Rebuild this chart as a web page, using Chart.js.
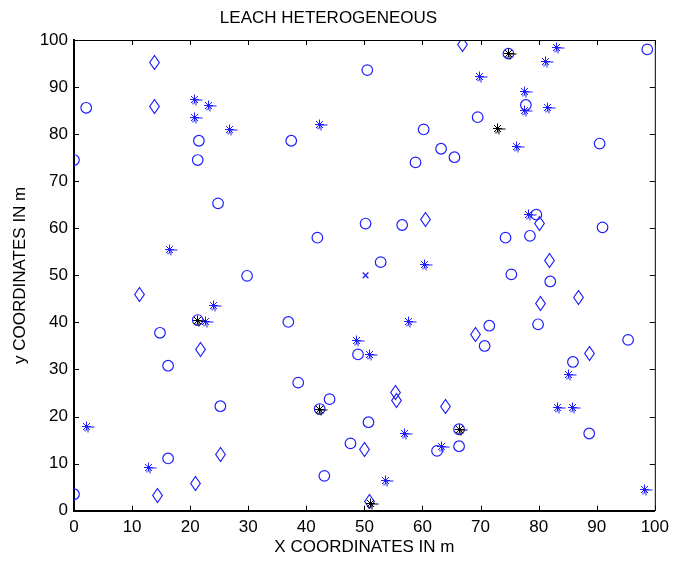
<!DOCTYPE html>
<html>
<head>
<meta charset="utf-8">
<title>LEACH HETEROGENEOUS</title>
<script src="https://cdn.jsdelivr.net/npm/chart.js@4.4.1/dist/chart.umd.min.js"></script>
<style>
    html, body { margin: 0; padding: 0; background: #fff; }
    #wrap { width: 675px; height: 562px; position: relative; }
</style>
</head>
<body>
<div id="wrap"><canvas id="grafo-leach"></canvas></div>
<script>
// ---------------------------------------------------------
// Datos (coordenadas en m)
// ---------------------------------------------------------
const normalNodes = [
    [0, 3.5], [0, 74.5], [2.1, 85.6], [21.5, 78.6], [21.3, 74.5], [24.8, 65.3], [29.8, 49.9],
    [14.8, 37.8], [16.2, 30.8], [25.2, 22.2], [16.2, 11.1], [21.3, 40.5], [37.4, 78.6],
    [50.5, 93.6], [60.2, 81.0], [63.2, 76.9], [58.8, 74.0], [65.5, 75.1], [69.5, 83.6],
    [77.8, 86.2], [74.8, 97.1], [90.5, 78.0], [98.7, 98.0], [50.2, 61.0], [56.5, 60.7],
    [41.9, 58.0], [52.8, 52.8], [36.9, 40.1], [48.9, 33.2], [79.6, 62.9], [74.3, 58.0],
    [78.5, 58.4], [91.0, 60.2], [75.3, 50.2], [82.0, 48.7], [71.5, 39.3], [79.9, 39.6],
    [70.7, 35.0], [95.4, 36.3], [85.9, 31.6], [38.6, 27.2], [44.0, 23.7], [42.3, 21.6],
    [50.7, 18.8], [47.6, 14.3], [62.5, 12.7], [43.1, 7.4], [66.3, 17.3], [66.3, 13.7],
    [88.7, 16.4]
];
const advancedNodes = [
    [13.9, 95.3], [13.9, 85.9], [11.3, 46.0], [21.8, 34.3], [25.2, 12.0], [21.0, 5.8],
    [14.4, 3.2], [66.9, 99.1], [60.5, 61.9], [80.2, 61.0], [81.8, 53.1], [86.8, 45.2],
    [80.4, 44.0], [69.2, 37.5], [88.7, 33.4], [55.4, 25.1], [55.6, 23.5], [63.9, 22.2],
    [50.0, 12.9], [50.9, 1.9]
];
const starNodes = [
    [20.8, 87.3], [23.2, 86.1], [20.8, 83.5], [26.8, 81.0], [42.3, 82.0], [83.1, 98.5],
    [81.2, 95.5], [69.9, 92.3], [77.5, 89.1], [77.6, 85.1], [81.6, 85.6], [76.2, 77.4],
    [16.5, 55.4], [24.1, 43.5], [22.6, 40.3], [60.4, 52.4], [57.6, 40.1], [48.6, 36.2],
    [50.8, 33.1], [78.3, 63.0], [2.2, 17.8], [12.9, 9.2], [56.9, 16.3], [63.2, 13.7],
    [53.7, 6.4], [85.2, 29.0], [83.2, 21.9], [85.9, 21.9], [98.2, 4.6]
];
const clusterHeads = [
    [74.8, 97.1], [72.9, 81.1], [21.3, 40.5], [42.3, 21.6], [66.3, 17.3], [51.1, 1.6]
];
const sink = [[50.2, 50.0]];

const ticksX = [0, 10, 20, 30, 40, 50, 60, 70, 80, 90, 100];
const ticksY = [0, 10, 20, 30, 40, 50, 60, 70, 80, 90, 100];

const AZUL = 'rgb(30,30,255)';
const FUENTE = "Arial, 'Liberation Sans', Helvetica, sans-serif";

const toXY = arr => arr.map(p => ({ x: p[0], y: p[1] }));

// Marcadores estilo MATLAB dibujados en pequeños canvas
function marcadorDiamante(color) {
    const c = document.createElement('canvas');
    c.width = 13; c.height = 17;
    const g = c.getContext('2d');
    g.strokeStyle = color;
    g.lineWidth = 1.2;
    g.beginPath();
    g.moveTo(6.5, 1.5);
    g.lineTo(11.3, 8.5);
    g.lineTo(6.5, 15.5);
    g.lineTo(1.7, 8.5);
    g.closePath();
    g.stroke();
    return c;
}

function marcadorAsterisco(color) {
    const c = document.createElement('canvas');
    c.width = 21; c.height = 21;
    const g = c.getContext('2d');
    const m = 10.5;
    g.strokeStyle = color;
    g.lineWidth = 1;
    g.beginPath();
    // asterisco
    g.moveTo(m, m - 5); g.lineTo(m, m + 4);
    g.moveTo(m - 4.5, m); g.lineTo(m + 4.5, m);
    g.moveTo(m - 3.5, m - 3.5); g.lineTo(m + 3.5, m + 3.5);
    g.moveTo(m + 3.5, m - 3.5); g.lineTo(m - 3.5, m + 3.5);
    // trazo extra desplazado
    g.moveTo(m, m + 0.5); g.lineTo(m + 8, m + 0.5);
    g.moveTo(m + 1.5, m + 1); g.lineTo(m + 1.5, m + 6);
    g.moveTo(m - 1.5, m + 3); g.lineTo(m - 1.5, m + 5);
    g.stroke();
    g.fillStyle = color;
    g.fillRect(m - 1.5, m - 1.5, 3, 3);
    return c;
}

// Ticks interiores y marco superior/derecho
const marcoMatlab = {
    id: 'marcoMatlab',
    beforeDatasetsDraw(chart) {
        chart.ctx.imageSmoothingEnabled = false;
    },
    afterDraw(chart) {
        const { ctx, chartArea: a, scales } = chart;
        const L = 5;
        ctx.save();
        ctx.strokeStyle = '#000';
        ctx.lineWidth = 1;
        ctx.beginPath();
        ctx.moveTo(a.left, a.top + 0.5); ctx.lineTo(a.right + 0.5, a.top + 0.5);
        ctx.moveTo(a.right + 0.5, a.top); ctx.lineTo(a.right + 0.5, a.bottom);
        ticksX.forEach(v => {
            const x = Math.round(scales.x.getPixelForValue(v)) + 0.5;
            ctx.moveTo(x, a.bottom); ctx.lineTo(x, a.bottom - L);
            ctx.moveTo(x, a.top); ctx.lineTo(x, a.top + L);
        });
        ticksY.forEach(v => {
            const y = Math.round(scales.y.getPixelForValue(v)) + 0.5;
            ctx.moveTo(a.left, y); ctx.lineTo(a.left + L, y);
            ctx.moveTo(a.right, y); ctx.lineTo(a.right - L, y);
        });
        ctx.stroke();
        ctx.restore();
    }
};

const estrellaAzul = marcadorAsterisco(AZUL);
const estrellaNegra = marcadorAsterisco('#000');

new Chart(document.getElementById('grafo-leach'), {
    type: 'scatter',
    data: {
        datasets: [
            { label: 'Cluster heads', data: toXY(clusterHeads), pointStyle: estrellaNegra },
            { label: 'Sink', data: toXY(sink), pointStyle: 'crossRot', pointRadius: 4, borderColor: AZUL, borderWidth: 1.3 },
            { label: 'Asteriscos', data: toXY(starNodes), pointStyle: estrellaAzul },
            { label: 'Avanzados', data: toXY(advancedNodes), pointStyle: marcadorDiamante(AZUL) },
            { label: 'Normales', data: toXY(normalNodes), pointStyle: 'circle', pointRadius: 5.3,
              borderColor: AZUL, backgroundColor: 'transparent', borderWidth: 1.2 }
        ]
    },
    options: {
        responsive: true,
        maintainAspectRatio: false,
        animation: false,
        layout: { padding: { left: 0, right: 18, top: 0, bottom: 0 } },
        plugins: {
            legend: { display: false },
            tooltip: { enabled: false },
            title: {
                display: true,
                text: 'LEACH HETEROGENEOUS',
                color: '#000',
                font: { family: FUENTE, size: 17, weight: 'normal' },
                padding: { top: 8, bottom: 11.6 }
            }
        },
        scales: {
            x: {
                type: 'linear', min: 0, max: 100,
                afterBuildTicks: s => { s.ticks = ticksX.map(v => ({ value: v })); },
                afterFit: s => { s.height = 51.3; },
                grid: { display: false, drawTicks: false },
                border: { display: true, color: '#000', width: 2 },
                ticks: { color: '#000', padding: 6, maxRotation: 0, font: { family: FUENTE, size: 17 } },
                title: { display: true, text: 'X COORDINATES IN m', color: '#000',
                         font: { family: FUENTE, size: 17 }, padding: { top: 0, bottom: 4 } }
            },
            y: {
                type: 'linear', min: 0, max: 100,
                afterBuildTicks: s => { s.ticks = ticksY.map(v => ({ value: v })); },
                afterFit: s => { s.width = 74; },
                grid: { display: false, drawTicks: false },
                border: { display: true, color: '#000', width: 2 },
                ticks: { color: '#000', padding: 6, font: { family: FUENTE, size: 17 } },
                title: { display: true, text: 'y COORDINATES IN m', color: '#000',
                         font: { family: FUENTE, size: 17 }, padding: { top: 10, bottom: 0 } }
            }
        }
    },
    plugins: [marcoMatlab]
});
</script>
</body>
</html>
